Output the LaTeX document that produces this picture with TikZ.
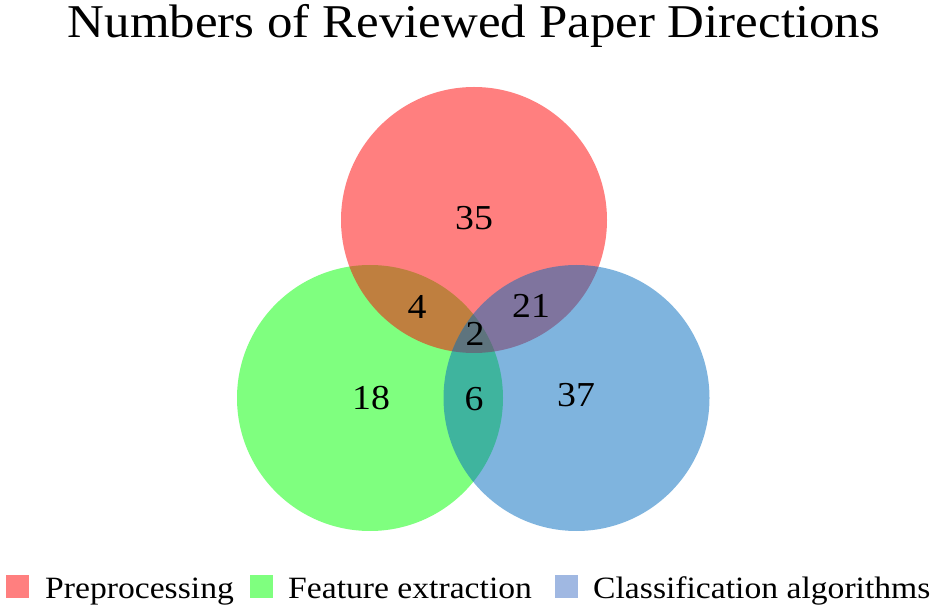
\documentclass[tikz,border=0pt]{standalone}
\usepackage{fontspec}
\setmainfont{Liberation Serif}
\definecolor{vred}{RGB}{255,0,0}
\definecolor{vgreen}{RGB}{0,255,0}
\definecolor{vblue}{RGB}{0,106,190}
\definecolor{lred}{RGB}{255,127,127}
\definecolor{lgreen}{RGB}{127,255,127}
\definecolor{lblue}{RGB}{160,184,226}
\newcommand{\wider}[2]{\scalebox{#1}[1]{#2}}
\tikzset{
  setcircle/.style={fill=#1, fill opacity=0.5, draw=none},
  numlabel/.style={font=\fontsize{35}{40}\selectfont, text=black, inner sep=0pt},
  legtext/.style={font=\fontsize{31}{34}\selectfont, anchor=base west, inner sep=0pt},
  legbox/.style={fill=#1, draw=none, minimum size=23pt, inner sep=0pt, anchor=north west}
}
\begin{document}
\begin{tikzpicture}[x=1pt,y=-1pt]
\useasboundingbox (0,0) rectangle (935,609);
\node[font=\fontsize{47}{50}\selectfont, anchor=base, inner sep=0pt] (title) at (474,38) {\wider{1.084}{Numbers of Reviewed Paper Directions}};
\fill[setcircle=vgreen] (370,398) circle (133);
\fill[setcircle=vred] (474,220) circle (133);
\fill[setcircle=vblue] (576.5,398) circle (133);
\node[numlabel] (n35) at (474,218) {\wider{1.08}{35}};
\node[numlabel] (n4) at (417,307) {\wider{1.08}{4}};
\node[numlabel] (n21) at (531,306) {\wider{1.08}{21}};
\node[numlabel] (n2) at (475,334) {\wider{1.08}{2}};
\node[numlabel] (n18) at (371,398) {\wider{1.08}{18}};
\node[numlabel] (n6) at (474,399) {\wider{1.08}{6}};
\node[numlabel] (n37) at (576,395) {\wider{1.08}{37}};
\node[legbox=lred] (b1) at (6,575) {};
\node[legtext] (t1) at (45,598) {\wider{1.085}{Preprocessing}};
\node[legbox=lgreen] (b2) at (250,575) {};
\node[legtext] (t2) at (288,598) {\wider{1.085}{Feature extraction}};
\node[legbox=lblue] (b3) at (555,575) {};
\node[legtext] (t3) at (593,598) {\wider{1.085}{Classification algorithms}};
\end{tikzpicture}
\end{document}
